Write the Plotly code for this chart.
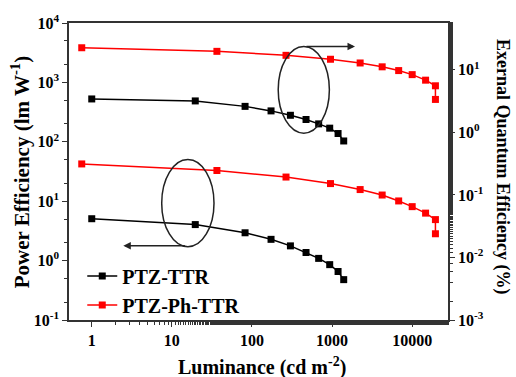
import plotly.graph_objects as go

# Luminance (cd m^-2)
lum_ttr = [1.0, 19.6, 82, 173, 302, 473, 680, 934, 1188, 1397]
lum_ph = [0.75, 36.5, 266, 955, 2240, 4220, 6780, 10000, 14700, 19500, 19500]

# Power efficiency (lm W^-1), left axis
pe_ttr = [5.07, 4.04, 2.94, 2.28, 1.77, 1.37, 1.09, 0.855, 0.655, 0.478]
pe_ph = [42.4, 32.9, 25.5, 19.8, 15.7, 12.7, 10.1, 8.1, 6.3, 4.9, 2.83]

# External quantum efficiency (%), right axis
eqe_ttr = [3.43, 3.19, 2.61, 2.21, 1.88, 1.61, 1.37, 1.17, 0.96, 0.73]
eqe_ph = [22.6, 19.8, 17.1, 14.8, 12.9, 11.2, 9.75, 8.4, 6.85, 5.57, 3.37]

x_ticks = [1, 10, 100, 1000, 10000]
x_labels = ["1", "10", "100", "1000", "10000"]
yl_ticks = [0.1, 1, 10, 100, 1000, 10000]
yl_labels = ["10<sup>-1</sup>", "10<sup>0</sup>", "10<sup>1</sup>", "10<sup>2</sup>", "10<sup>3</sup>", "10<sup>4</sup>"]
yr_ticks = [0.001, 0.01, 0.1, 1, 10]
yr_labels = ["10<sup>-3</sup>", "10<sup>-2</sup>", "10<sup>-1</sup>", "10<sup>0</sup>", "10<sup>1</sup>"]

BLACK = "#000000"
RED = "#ff0000"
FONT = "Liberation Serif"

fig = go.Figure()
mk = dict(symbol="square", size=7)
fig.add_trace(go.Scatter(x=lum_ttr, y=pe_ttr, mode="lines+markers", name="<b>PTZ-TTR</b>",
                         line=dict(color=BLACK, width=1.5), marker=dict(color=BLACK, **mk)))
fig.add_trace(go.Scatter(x=lum_ph, y=pe_ph, mode="lines+markers", name="<b>PTZ-Ph-TTR</b>",
                         line=dict(color=RED, width=1.5), marker=dict(color=RED, **mk)))
fig.add_trace(go.Scatter(x=lum_ttr, y=eqe_ttr, mode="lines+markers", showlegend=False, yaxis="y2",
                         line=dict(color=BLACK, width=1.5), marker=dict(color=BLACK, **mk)))
fig.add_trace(go.Scatter(x=lum_ph, y=eqe_ph, mode="lines+markers", showlegend=False, yaxis="y2",
                         line=dict(color=RED, width=1.5), marker=dict(color=RED, **mk)))

axis_common = dict(showgrid=False, zeroline=False, showline=True, linecolor="#333", linewidth=1.5,
                   ticks="outside", ticklen=5, tickwidth=1, tickcolor="#333",
                   tickfont=dict(family=FONT, size=16, color="black"))
minor = dict(ticks="outside", ticklen=3, tickcolor="#333", showgrid=False)

fig.update_layout(
    width=516, height=377,
    margin=dict(l=69, r=68, t=21, b=57),
    paper_bgcolor="white", plot_bgcolor="white",
    font=dict(family=FONT, color="black"),
    xaxis=dict(type="log", range=[-0.284, 4.447], tickvals=x_ticks, ticktext=["<b>%s</b>" % t for t in x_labels],
               mirror=True, minor=minor, **axis_common),
    yaxis=dict(type="log", range=[-1, 4], tickvals=yl_ticks, ticktext=["<b>%s</b>" % t for t in yl_labels],
               minor=minor, **axis_common),
    yaxis2=dict(type="log", range=[-3, 1.75], overlaying="y", side="right",
                tickvals=yr_ticks, ticktext=["<b>%s</b>" % t for t in yr_labels], minor=minor,
                **axis_common),
    legend=dict(x=0.035, y=-0.015, xanchor="left", yanchor="bottom", bgcolor="rgba(0,0,0,0)",
                font=dict(family=FONT, size=20, color="black"), tracegroupgap=0, itemwidth=30),
    showlegend=True,
)

# axis titles
fig.add_annotation(text="<b>Luminance (cd m<sup>-2</sup>)</b>", xref="paper", yref="paper",
                   x=0.509, y=-0.157, xanchor="center", yanchor="middle", showarrow=False,
                   font=dict(family=FONT, size=20, color="black"))
fig.add_annotation(text="<b>Power Efficiency (lm W<sup>-1</sup>)</b>", xref="paper", yref="paper",
                   x=-0.127, y=0.5, xanchor="center", yanchor="middle", textangle=-90, showarrow=False,
                   font=dict(family=FONT, size=21, color="black"))
fig.add_annotation(text="<b>Exernal Quantum Efficiency (%)</b>", xref="paper", yref="paper",
                   x=1.145, y=0.515, xanchor="center", yanchor="middle", textangle=90, showarrow=False,
                   font=dict(family=FONT, size=18, color="black"))

# ellipses and arrows
fig.add_shape(type="circle", xref="paper", yref="paper", x0=0.552, x1=0.687, y0=0.629, y1=0.921,
              line=dict(color="#222", width=1.5))
fig.add_shape(type="circle", xref="paper", yref="paper", x0=0.2446, x1=0.3826, y0=0.247, y1=0.540,
              line=dict(color="#222", width=1.5))
fig.add_annotation(x=0.7546, y=0.921, xref="paper", yref="paper", ax=-50, ay=0, showarrow=True,
                   arrowhead=2, arrowsize=1, arrowwidth=1.5, arrowcolor="#222", text="")
fig.add_annotation(x=0.1433, y=0.2496, xref="paper", yref="paper", ax=63, ay=0, showarrow=True,
                   arrowhead=2, arrowsize=1, arrowwidth=1.5, arrowcolor="#222", text="")

fig.write_html("out.html")
